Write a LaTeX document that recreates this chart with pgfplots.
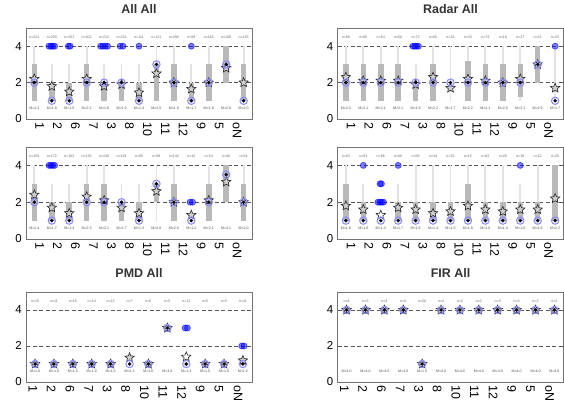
\documentclass[border=0pt]{standalone}
\usepackage{pgfplots}
\pgfplotsset{compat=1.18}
\usepackage{pgfplotstable}
\usepackage{fontspec}
\setmainfont{Liberation Sans}

\pgfdeclareplotmark{fstar}{%
  \pgfpathmoveto{\pgfpointpolar{90}{\pgfplotmarksize}}%
  \pgfpathlineto{\pgfpointpolar{126}{0.45\pgfplotmarksize}}%
  \pgfpathlineto{\pgfpointpolar{162}{\pgfplotmarksize}}%
  \pgfpathlineto{\pgfpointpolar{198}{0.45\pgfplotmarksize}}%
  \pgfpathlineto{\pgfpointpolar{234}{\pgfplotmarksize}}%
  \pgfpathlineto{\pgfpointpolar{270}{0.45\pgfplotmarksize}}%
  \pgfpathlineto{\pgfpointpolar{306}{\pgfplotmarksize}}%
  \pgfpathlineto{\pgfpointpolar{342}{0.45\pgfplotmarksize}}%
  \pgfpathlineto{\pgfpointpolar{18}{\pgfplotmarksize}}%
  \pgfpathlineto{\pgfpointpolar{54}{0.45\pgfplotmarksize}}%
  \pgfpathclose
  \pgfusepathqfillstroke
}

% columns: x, whisker low/high, box low/high, mean (grey star), mean (white star), median, labels
\pgfplotstableread{
x wlo whi blo bhi mean wmean med n M
1 1 4 1 3 2.2 nan 2 n=224 M=2.2
2 1 3 1 2 1.8 nan 1 n=200 M=1.8
3 1 3 1 2 1.5 nan 1 n=261 M=1.5
4 1 4 1 3 2.2 nan 2 n=202 M=2.2
5 1 3 1 2 1.8 nan 2 n=212 M=1.8
6 1 3 1 2 1.9 nan 2 n=224 M=1.9
7 1 3 1 2 1.45 nan 1 n=111 M=1.4
8 1 4 1 3 2.5 nan 3 n=121 M=2.5
9 1 4 1 3 2.0 nan 2 n=290 M=1.9
10 1 3 1 2 1.65 nan 1 n=59 M=1.7
11 1 4 1 3 2.0 nan 2 n=118 M=1.9
12 2 4 2 4 2.8 nan 3 n=109 M=2.8
13 1 4 1 3 2.0 nan 1 n=125 M=2.0
}\tA
\pgfplotstableread{
x y
1.84 4
1.95 4
2.05 4
2.16 4
2.95 4
3.05 4
4.8 4
4.93 4
5.07 4
5.2 4
5.92 4
6.08 4
7 4
10 4
}\oA

\pgfplotstableread{
x wlo whi blo bhi mean wmean med n M
1 1 4 1 3 2.3 nan 2 n=68 M=2.3
2 1 4 1 3 2.1 nan 2 n=65 M=2.1
3 1 4 1 3 2.1 nan 2 n=64 M=2.1
4 1 4 1 3 2.1 nan 2 n=60 M=2.1
5 1 3 1 2 1.9 nan 2 n=72 M=1.9
6 1 4 1 3 2.3 nan 2 n=50 M=2.2
7 1 4 2 2 1.7 nan 2 n=26 M=1.7
8 1 4 1 3.2 2.2 nan 2 n=33 M=2.2
9 1 4 1 3 2.1 nan 2 n=73 M=2.1
10 1 4 1 3 2.0 nan 2 n=18 M=2.0
11 1 4 1.2 3 2.2 nan 2 n=27 M=2.1
12 2 4 2 4 3.0 nan 3 n=31 M=2.9
13 1 3.8 1 1 1.7 nan 1 n=23 M=1.7
}\tB
\pgfplotstableread{
x y
4.84 4
4.95 4
5.05 4
5.16 4
13 4
}\oB

\pgfplotstableread{
x wlo whi blo bhi mean wmean med n M
1 1 4 1 3 2.4 nan 2 n=150 M=2.4
2 1 3 1 2 1.7 nan 1 n=172 M=1.7
3 1 3 1 2 1.4 nan 1 n=162 M=1.4
4 1 4 1 3 2.3 nan 2 n=136 M=2.3
5 1 4 1 3 2.1 nan 2 n=130 M=2.1
6 1 3 1 2 1.7 nan 2 n=119 M=1.7
7 1 3 1 2 1.4 nan 1 n=65 M=1.3
8 1 4 2 3 2.6 nan 3 n=58 M=2.6
9 1 4 1 3 2.0 nan 2 n=143 M=2.0
10 1 1 1 1 1.3 nan 1 n=15 M=1.2
11 1 4 1 3 2.1 nan 2 n=54 M=2.1
12 2 4 2 4 3.1 nan 3.5 n=46 M=3.1
13 1 4 1 3 2.0 nan 2 n=54 M=2.0
}\tC
\pgfplotstableread{
x y
1.84 4
1.95 4
2.05 4
2.16 4
9.93 2
10.07 2
}\oC

\pgfplotstableread{
x wlo whi blo bhi mean wmean med n M
1 1 4 1 3 1.8 nan 1 n=63 M=1.8
2 1 3 1 2 1.6 nan 1 n=63 M=1.6
3 1 1 1 1 nan 1.3 1 n=86 M=1.3
4 1 3 1 2 1.7 nan 1 n=60 M=1.7
5 1 4 1 2 1.6 nan 1 n=58 M=1.6
6 1 4 1 2 1.4 nan 1 n=34 M=1.4
7 1 4 1 2 1.5 nan 1 n=15 M=1.5
8 1 4 1 3 1.8 nan 1 n=15 M=1.8
9 1 4 1 2 1.6 nan 1 n=62 M=1.6
10 1 4 1 2 1.5 nan 1 n=20 M=1.4
11 1 3 1 2 1.6 nan 1 n=18 M=1.6
12 1 4 1 2 1.6 nan 1 n=12 M=1.6
13 1 4 1 4 2.2 nan 1 n=25 M=2.2
}\tD
\pgfplotstableread{
x y
2 4
2.84 2
2.95 2
3.05 2
3.16 2
2.96 3
3.04 3
4 4
11 4
}\oD

\pgfplotstableread{
x wlo whi blo bhi mean wmean med n M
1 1 1 1 1 1.0 nan 1 n=15 M=1.0
2 1 1 1 1 1.0 nan 1 n=11 M=1.0
3 1 1 1 1 1.0 nan 1 n=15 M=1.0
4 1 1 1 1 1.0 nan 1 n=14 M=1.0
5 1 1 1 1 1.0 nan 1 n=12 M=1.0
6 1 2 1 1 1.35 nan 1 n=7 M=1.3
7 1 1 1 1 1.0 nan 1 n=5 M=1.0
8 3 3 3 3 3.0 nan 3 n=5 M=3.0
9 1 1 1 1 nan 1.4 1 n=12 M=1.3
10 1 1 1 1 1.0 nan 1 n=5 M=1.0
11 1 1 1 1 1.0 nan 1 n=5 M=1.0
12 1 1 1 1 1.2 nan 1 n=11 M=1.2
}\tE
\pgfplotstableread{
x y
8.94 3
9.06 3
11.94 2
12.06 2
}\oE

\pgfplotstableread{
x wlo whi blo bhi mean wmean med n M
1 4 4 4 4 4.0 nan 4 n=4 M=4.0
2 4 4 4 4 4.0 nan 4 n=6 M=4.0
3 4 4 4 4 4.0 nan 4 n=4 M=4.0
4 4 4 4 4 4.0 nan 4 n=6 M=4.0
5 1 1 1 1 1.0 nan 1 n=20 M=1.0
6 4 4 4 4 4.0 nan 4 n=4 M=4.0
7 4 4 4 4 4.0 nan 4 n=2 M=4.0
8 4 4 4 4 4.0 nan 4 n=2 M=4.0
9 4 4 4 4 4.0 nan 4 n=5 M=4.0
10 4 4 4 4 4.0 nan 4 n=3 M=4.0
11 4 4 4 4 4.0 nan 4 n=2 M=4.0
12 4 4 4 4 4.0 nan 4 n=2 M=4.0
}\tF

\pgfplotsset{
  panel/.style={
    scale only axis, width=226bp,
    ymin=0, ymax=5, ytick={0,2,4},
    ymajorgrids,
    grid style={black!65, line width=0.7bp, dash pattern=on 4bp off 2.5bp},
    axis line style={black!55, line width=0.8bp},
    major tick length=0pt,
    /pgf/number format/assume math mode=true,
    yticklabel style={font=\fontsize{11.5}{12}\selectfont, inner sep=0pt},
    yticklabel shift=4bp,
    xticklabel style={rotate=-90, anchor=west, font=\fontsize{12.5}{13}\selectfont, inner sep=0pt},
    xticklabel shift=3bp,
    xticklabels={1,2,6,7,3,8,10,11,12,9,5,oN},
    title style={font=\bfseries\fontsize{12.5}{13}\selectfont, anchor=south, inner sep=0pt, yshift=8bp, text=black!80},
  },
  p13/.style={xmin=0.52, xmax=13.48,
    xtick={1.3,2.33,3.36,4.39,5.42,6.45,7.48,8.51,9.54,10.57,11.6,12.63}},
  p12/.style={xmin=0.52, xmax=12.48,
    xtick={0.88,1.86,2.85,3.83,4.82,5.8,6.78,7.77,8.76,9.74,10.73,11.75}},
}

\newcommand{\panelplots}[1]{%
  \addplot[draw=none, mark=none, forget plot,
    error bars/.cd, y dir=plus, y explicit, error mark=none,
    error bar style={line width=1.8bp, draw=gray!22}]
    table[x=x, y=wlo, y error expr=\thisrow{whi}-\thisrow{wlo}] {#1};
  \addplot[draw=none, mark=none, forget plot,
    error bars/.cd, y dir=plus, y explicit, error mark=none,
    error bar style={line width=5.5bp, draw=gray!55}]
    table[x=x, y=blo, y error expr=\thisrow{bhi}-\thisrow{blo}] {#1};
  \addplot[only marks, mark=fstar, mark size=4.9bp,
    mark options={fill=gray!38, draw=gray!30!black, line width=0.6bp}]
    table[x=x, y=mean] {#1};
  \addplot[only marks, mark=fstar, mark size=4.9bp,
    mark options={fill=white, draw=gray!30!black, line width=0.6bp}]
    table[x=x, y=wmean] {#1};
  \addplot[only marks, mark=*, mark size=3.7bp,
    mark options={draw=blue!45, line width=1bp, fill=blue!50, fill opacity=0.12}]
    table[x=x, y=med] {#1};
  \addplot[only marks, mark=*, mark size=1.5bp, black]
    table[x=x, y=med] {#1};
  \addplot[only marks, mark=none, nodes near coords, point meta=explicit symbolic,
    nodes near coords style={anchor=center, inner sep=0pt,
      font=\fontsize{3.6}{4}\selectfont, text=black!60}]
    table[x=x, y expr=4.5, meta=n] {#1};
  \addplot[only marks, mark=none, nodes near coords, point meta=explicit symbolic,
    nodes near coords style={anchor=center, inner sep=0pt,
      font=\fontsize{3.6}{4}\selectfont, text=black!70}]
    table[x=x, y expr=0.6, meta=M] {#1};
}
\newcommand{\outliers}[1]{%
  \addplot[only marks, mark=*, mark size=3bp,
    mark options={draw=blue, fill=blue, draw opacity=0.6, fill opacity=0.5, line width=0.8bp}]
    table[x=x, y=y] {#1};
}

\begin{document}
\begin{tikzpicture}
\useasboundingbox (0,0) rectangle (564bp,401bp);

\begin{axis}[panel, p13, height=91bp, at={(26bp,282bp)}, anchor=south west, title={All All}]
\panelplots{\tA}
\outliers{\oA}
\end{axis}

\begin{axis}[panel, p13, height=91bp, at={(337.5bp,282bp)}, anchor=south west, title={Radar All}]
\panelplots{\tB}
\outliers{\oB}
\end{axis}

\begin{axis}[panel, p13, height=92bp, at={(26bp,162bp)}, anchor=south west]
\panelplots{\tC}
\outliers{\oC}
\end{axis}

\begin{axis}[panel, p13, height=92bp, at={(337.5bp,162bp)}, anchor=south west]
\panelplots{\tD}
\outliers{\oD}
\end{axis}

\begin{axis}[panel, p12, height=90bp, at={(26bp,19bp)}, anchor=south west, title={PMD All}]
\panelplots{\tE}
\outliers{\oE}
\end{axis}

\begin{axis}[panel, p12, height=90bp, at={(337.5bp,19bp)}, anchor=south west, title={FIR All}]
\panelplots{\tF}
\end{axis}
\end{tikzpicture}
\end{document}
